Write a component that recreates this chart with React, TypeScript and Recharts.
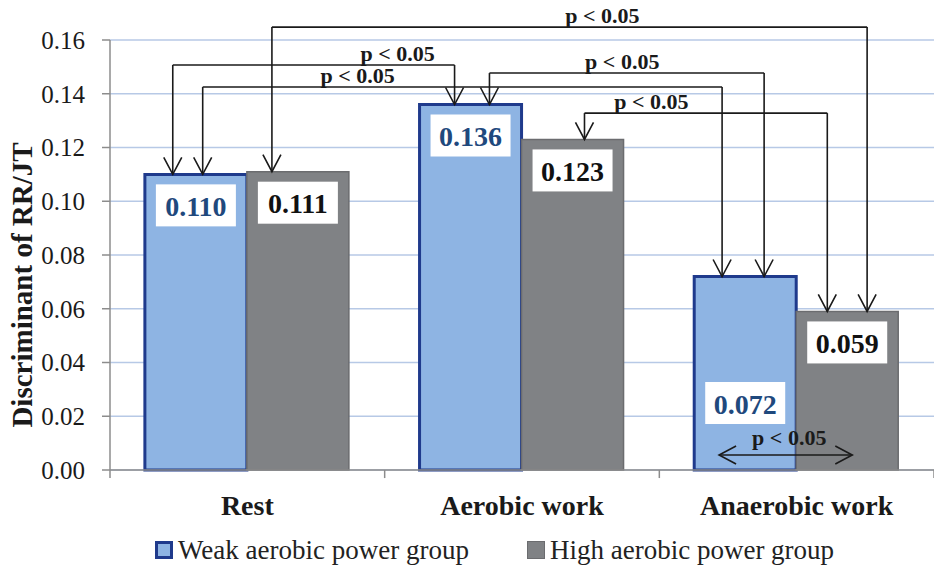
import React from "react";
import {
  Bar,
  BarChart,
  CartesianGrid,
  ErrorBar,
  Label,
  LabelList,
  Legend,
  ReferenceLine,
  XAxis,
  YAxis,
} from "recharts";

const categories = ["Rest", "Aerobic work", "Anaerobic work"];
const weakGroup = [0.11, 0.136, 0.072];
const highGroup = [0.111, 0.123, 0.059];
const weakCaps = [0, 0, 0];
const yTicks = [0, 0.02, 0.04, 0.06, 0.08, 0.1, 0.12, 0.14, 0.16];
const bandEdges = [0, 1, 2, 3];
const seriesNames = ["Weak aerobic power group", "High aerobic power group"];
const yTitle = "Discriminant of RR/JT";
const sigText = "p < 0.05";

const SERIF = "'Liberation Serif', 'Times New Roman', serif";
const INK = "#1a1a1a";
const AXIS = "#8c8c8c";
const WEAK_FILL = "#8EB4E3";
const WEAK_EDGE = "#1F3A8C";
const HIGH_FILL = "#808285";
const HIGH_EDGE = "#6b6c6f";
const GAP = 0.127; // barCategoryGap as a share of the band

const rows = categories.map((name, i) => ({
  name,
  weak: weakGroup[i],
  high: highGroup[i],
  cap: weakCaps[i],
}));
const seriesValues = [weakGroup, highGroup];

// significance brackets: ends are [category, group (0 weak / 1 high), arrow shift in band units]
const comparisons = [
  { from: [0, 1, -0.097], to: [2, 1, 0.07], level: 0.1648, textAt: 1.793 },
  { from: [0, 0, -0.085], to: [1, 0, -0.059], level: 0.1507, textAt: 1.047 },
  { from: [0, 0, 0.024], to: [2, 0, -0.085], level: 0.1425, textAt: 0.902 },
  { from: [1, 0, 0.068], to: [2, 0, 0.068], level: 0.1477, textAt: 1.865 },
  { from: [1, 1, 0.041], to: [2, 1, -0.075], level: 0.1328, textAt: 1.971 },
  { from: [2, 0, -0.096], to: [2, 1, 0.016], level: 0.0056, textAt: 2.473, inline: true },
];

const barCenter = (cat: number, group: number) => {
  const w = (1 - 2 * GAP) / 2;
  return cat + GAP + w * group + w / 2;
};

const arrowHead = (x1: number, y1: number, x2: number, y2: number) => {
  const len = Math.hypot(x2 - x1, y2 - y1) || 1;
  const ux = (x2 - x1) / len;
  const uy = (y2 - y1) / len;
  const back = 17;
  const half = 9;
  const bx = x2 - ux * back;
  const by = y2 - uy * back;
  return (
    <polyline
      points={`${bx - uy * half},${by + ux * half} ${x2},${y2} ${bx + uy * half},${by - ux * half}`}
      fill="none"
      stroke={INK}
      strokeWidth={1.6}
    />
  );
};

const verticalArrow = (p: any) => (
  <g>
    <line x1={p.x1} y1={p.y1} x2={p.x2} y2={p.y2} stroke={INK} strokeWidth={1.6} />
    {arrowHead(p.x1, p.y1, p.x2, p.y2)}
  </g>
);

const bracketTop = (fromX: number, toX: number, textAt: number, inline: boolean) => (p: any) => {
  const tx = p.x1 + ((textAt - fromX) / (toX - fromX)) * (p.x2 - p.x1);
  return (
    <g>
      <line x1={p.x1} y1={p.y1} x2={p.x2} y2={p.y2} stroke={INK} strokeWidth={1.6} />
      {inline && arrowHead(p.x2, p.y2, p.x1, p.y1)}
      {inline && arrowHead(p.x1, p.y1, p.x2, p.y2)}
      <text
        x={tx}
        y={p.y1 - (inline ? 10 : 4)}
        textAnchor="middle"
        fontFamily={SERIF}
        fontWeight="bold"
        fontSize={22}
        fill={INK}
      >
        {sigText}
      </text>
    </g>
  );
};

const annotationLines = comparisons.flatMap((c, k) => {
  const xa = barCenter(c.from[0], c.from[1]) + c.from[2];
  const xb = barCenter(c.to[0], c.to[1]) + c.to[2];
  const va = seriesValues[c.from[1]][c.from[0]];
  const vb = seriesValues[c.to[1]][c.to[0]];
  const items = [
    <ReferenceLine
      key={`h${k}`}
      xAxisId="num"
      ifOverflow="visible"
      segment={[
        { x: xa, y: c.level },
        { x: xb, y: c.level },
      ]}
      shape={bracketTop(xa, xb, c.textAt, !!c.inline)}
    />,
  ];
  if (!c.inline) {
    items.push(
      <ReferenceLine
        key={`a${k}`}
        xAxisId="num"
        ifOverflow="visible"
        segment={[
          { x: xa, y: c.level },
          { x: xa, y: va },
        ]}
        shape={verticalArrow}
      />,
      <ReferenceLine
        key={`b${k}`}
        xAxisId="num"
        ifOverflow="visible"
        segment={[
          { x: xb, y: c.level },
          { x: xb, y: vb },
        ]}
        shape={verticalArrow}
      />
    );
  }
  return items;
});

// small tick marks on the category axis at the band boundaries
const edgeTicks = bandEdges.map((e) => (
  <ReferenceLine
    key={`t${e}`}
    xAxisId="num"
    ifOverflow="visible"
    segment={[
      { x: e, y: 0 },
      { x: e, y: -0.003 },
    ]}
    stroke={AXIS}
    strokeWidth={1.5}
  />
));

const valueLabel = (color: string, lowIndex: number) => (props: any) => {
  const { x, y, width, height, value, index } = props;
  const cx = Number(x) + Number(width) / 2;
  const top = index === lowIndex ? Number(y) + Number(height) - 88 : Number(y) + 10;
  return (
    <g>
      <rect x={cx - 40} y={top} width={80} height={42} fill="#ffffff" />
      <text
        x={cx}
        y={top + 22}
        textAnchor="middle"
        dominantBaseline="central"
        fontFamily={SERIF}
        fontWeight="bold"
        fontSize={28}
        fill={color}
      >
        {Number(value).toFixed(3)}
      </text>
    </g>
  );
};

const marker = (fill: string, edge: string, bw: number) => (
  <span
    style={{
      display: "inline-block",
      width: 18 - 2 * bw,
      height: 18 - 2 * bw,
      background: fill,
      border: `${bw}px solid ${edge}`,
      marginRight: 5,
    }}
  />
);

const renderLegend = () => (
  <div
    style={{
      height: 47,
      display: "flex",
      alignItems: "center",
      paddingTop: 13,
      boxSizing: "border-box",
      fontFamily: SERIF,
      fontSize: 27,
      color: "#222",
      whiteSpace: "nowrap",
    }}
  >
    {marker(WEAK_FILL, WEAK_EDGE, 3)}
    <span>{seriesNames[0]}</span>
    <span style={{ width: 58 }} />
    {marker(HIGH_FILL, HIGH_EDGE, 1)}
    <span>{seriesNames[1]}</span>
  </div>
);

export default function App() {
  return (
    <div style={{ position: "absolute", left: 0, top: 0, background: "#fff" }}>
      <BarChart
        width={934}
        height={567}
        data={rows}
        margin={{ top: 40, right: 0, bottom: 0, left: 0 }}
        barCategoryGap={`${GAP * 100}%`}
        barGap={0}
      >
        <CartesianGrid vertical={false} stroke="#B7C9E6" strokeWidth={1.5} xAxisId="cat" />
        <XAxis
          xAxisId="num"
          dataKey="slot"
          type="number"
          domain={[0, 3]}
          allowDataOverflow
          ticks={bandEdges}
          height={0}
          tick={false}
          axisLine={false}
          tickLine={false}
        />
        <XAxis
          xAxisId="cat"
          dataKey="name"
          height={50}
          axisLine={{ stroke: AXIS, strokeWidth: 1.5 }}
          tickLine={false}
          tickMargin={19}
          tick={{ fontFamily: SERIF, fontWeight: "bold", fontSize: 28, fill: "#1a1a1a" }}
        />
        <YAxis
          width={110}
          domain={[0, 0.16]}
          ticks={yTicks}
          tickFormatter={(v: number) => v.toFixed(2)}
          axisLine={{ stroke: AXIS, strokeWidth: 1.5 }}
          tickLine={{ stroke: AXIS, strokeWidth: 1.5 }}
          tickSize={8}
          tickMargin={17}
          tick={{ fontFamily: SERIF, fontSize: 25, fill: "#1a1a1a" }}
        >
          <Label
            content={() => (
              <text
                x={22}
                y={285}
                transform="rotate(-90, 22, 285)"
                textAnchor="middle"
                dominantBaseline="central"
                fontFamily={SERIF}
                fontWeight="bold"
                fontSize={29}
                fill="#1a1a1a"
              >
                {yTitle}
              </text>
            )}
          />
        </YAxis>
        <Legend verticalAlign="bottom" align="left" wrapperStyle={{ left: 155, width: 760 }} content={renderLegend} />
        <Bar
          xAxisId="cat"
          dataKey="weak"
          name={seriesNames[0]}
          fill={WEAK_FILL}
          stroke={WEAK_EDGE}
          strokeWidth={3}
          isAnimationActive={false}
        >
          <ErrorBar dataKey="cap" width={12} stroke={INK} strokeWidth={2} />
          <LabelList dataKey="weak" content={valueLabel("#1F497D", 2)} />
        </Bar>
        <Bar
          xAxisId="cat"
          dataKey="high"
          name={seriesNames[1]}
          fill={HIGH_FILL}
          stroke={HIGH_EDGE}
          strokeWidth={1.5}
          isAnimationActive={false}
        >
          <LabelList dataKey="high" content={valueLabel("#111111", -1)} />
        </Bar>
        {edgeTicks}
        {annotationLines}
      </BarChart>
    </div>
  );
}
